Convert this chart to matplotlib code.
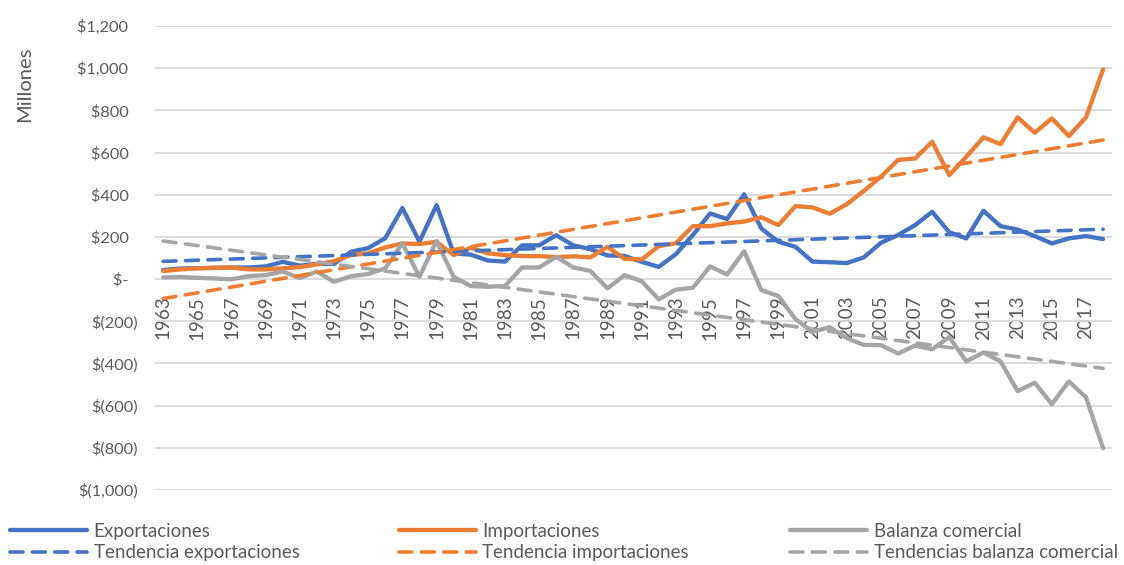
import numpy as np
import matplotlib.pyplot as plt
from matplotlib.ticker import FuncFormatter, FixedLocator

plt.rcParams['font.family'] = ['Lato', 'DejaVu Sans']

anios = list(range(1963, 2019))

# millones de dolares
exportaciones = [43, 50, 52, 53, 55, 55, 60, 82, 64, 72, 72, 130, 147, 194, 337,
                 177, 351, 122, 116, 88, 83, 160, 160, 208, 160, 142, 112, 110,
                 82, 58, 118, 209, 311, 285, 402, 240, 177, 153, 83, 80, 76, 103,
                 172, 209, 256, 319, 222, 193, 324, 251, 235, 204, 169, 193, 204, 190]
importaciones = [38, 46, 51, 54, 55, 46, 46, 51, 57, 70, 85, 114, 122, 150, 169,
                 166, 177, 114, 149, 122, 114, 109, 109, 104, 108, 103, 153, 96,
                 93, 156, 170, 251, 251, 264, 273, 293, 256, 346, 340, 310, 355, 418,
                 485, 565, 572, 651, 493, 580, 672, 640, 767, 694, 762, 678, 767, 994]
balanza = [8, 10, 6, 3, -1, 14, 19, 36, 5, 36, -13, 14, 24, 51, 170,
           11, 180, 11, -33, -36, -33, 55, 55, 106, 55, 39, -44, 19,
           -10, -96, -50, -41, 60, 22, 132, -52, -80, -190, -250, -228, -280, -312,
           -313, -353, -315, -333, -275, -390, -348, -390, -531, -491, -593, -485, -561, -802]

etiquetas = ['Exportaciones', 'Importaciones', 'Balanza comercial']
etiquetas_tend = ['Tendencia exportaciones', 'Tendencia importaciones',
                  'Tendencias balanza comercial']
colores = ['#4472C4', '#ED7D31', '#A5A5A5']

fig = plt.figure(figsize=(11.24, 5.65), dpi=100)
ax = fig.add_axes([0.1375, 0.1327, 0.8515, 0.8213])

x = np.arange(len(anios))
series = [exportaciones, importaciones, balanza]

lineas = []
for datos, col, lab in zip(series, colores, etiquetas):
    l, = ax.plot(x, datos, color=col, lw=3.1, label=lab,
                 solid_capstyle='round', solid_joinstyle='round', zorder=3)
    lineas.append(l)

tendencias = []
for datos, col, lab in zip(series, colores, etiquetas_tend):
    m, b = np.polyfit(x, datos, 1)
    l, = ax.plot(x, m * x + b, color=col, lw=2.6, label=lab,
                 dashes=(3.6, 2.6), dash_capstyle='round', zorder=4)
    tendencias.append(l)

ax.set_xlim(-0.5, len(anios) - 0.5)
ax.set_ylim(-1000, 1200)
ax.set_yticks(np.arange(-1000, 1201, 200))


def formato(v, pos):
    # formato contable: los positivos dejan espacio para el parentesis
    if v == 0:
        return '$-\u2007'
    if v < 0:
        return f'$({abs(v):,.0f})'
    return f'${v:,.0f}\u2007'


ax.yaxis.set_major_formatter(FuncFormatter(formato))
ax.grid(axis='y', color='#D9D9D9', lw=1.3, zorder=0)
ax.set_axisbelow(True)

# el eje de categorias cruza en cero
ax.spines['bottom'].set_position(('data', 0))
for s in ['top', 'right', 'left', 'bottom']:
    ax.spines[s].set_visible(False)
ax.xaxis.set_major_locator(FixedLocator(x[::2]))
ax.set_xticklabels([str(a) for a in anios[::2]])

ax.tick_params(axis='x', length=0, pad=12, labelsize=13.5, labelcolor='#595959',
               labelrotation=90)
ax.tick_params(axis='y', length=0, pad=12, labelsize=11.8, labelcolor='#595959')

fig.text(0.022, 0.85, 'Millones', rotation=90, ha='center', va='center',
         fontsize=14.5, color='#595959')

xs = [0.009, 0.355, 0.703]
for i in range(3):
    leg = fig.legend(handles=[lineas[i], tendencias[i]], loc='upper left',
                     bbox_to_anchor=(xs[i], 0.075), frameon=False, fontsize=13.5,
                     handlelength=4.1, handletextpad=0.35, labelspacing=0.25,
                     borderpad=0, borderaxespad=0)
    for t in leg.get_texts():
        t.set_color('#595959')

fig.savefig('out.png', dpi=100)
